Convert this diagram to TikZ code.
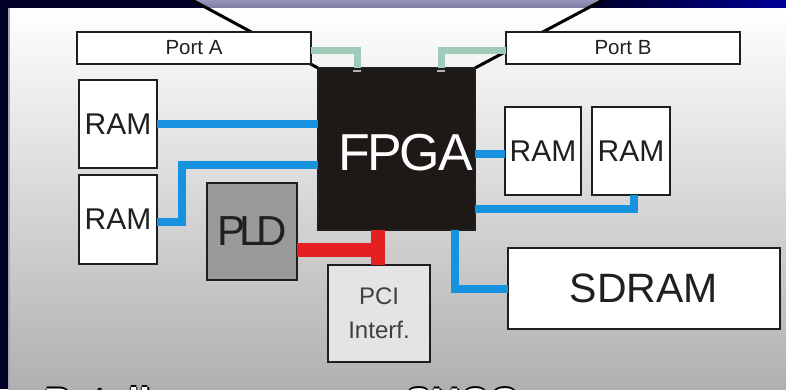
\documentclass[tikz,border=0pt]{standalone}
\usepackage{fontspec}
\setmainfont{Liberation Sans}
\usetikzlibrary{calc}
\definecolor{navyA}{RGB}{0,0,40}
\definecolor{navyB}{RGB}{0,0,150}
\definecolor{purpA}{RGB}{150,150,185}
\definecolor{purpB}{RGB}{120,120,160}
\definecolor{panelbot}{RGB}{176,176,176}
\definecolor{boxline}{RGB}{30,30,30}
\definecolor{fpgafill}{RGB}{30,24,22}
\definecolor{pldfill}{RGB}{154,154,154}
\definecolor{pcifill}{RGB}{228,228,228}
\definecolor{busblue}{RGB}{22,146,222}
\definecolor{busgreen}{RGB}{160,203,184}
\definecolor{busred}{RGB}{228,32,32}
\definecolor{txtdark}{RGB}{32,32,32}
\definecolor{txtgray}{RGB}{64,64,64}
\tikzset{
  chip/.style={draw=boxline, line width=2pt, inner sep=0pt, outer sep=0pt, anchor=north west, align=center},
  whitebox/.style={chip, fill=white, text=txtdark},
  bluebus/.style={draw=busblue, line width=8pt},
  greenbus/.style={draw=busgreen, line width=7pt},
  redbus/.style={draw=busred, line width=14pt},
  zoomline/.style={draw=black, line width=3pt},
  bigtxt/.style={font=\fontsize{30}{30}\selectfont},
  fragtxt/.style={font=\fontsize{40}{40}\selectfont\bfseries, inner sep=0pt, anchor=base west}
}
\begin{document}
\begin{tikzpicture}[x=1pt,y=-1pt]
\clip (0,0) rectangle (786,389);
\useasboundingbox (0,0) rectangle (786,389);
% background
\fill[navyA] (0,0) rectangle (786,389);
\shade[left color=navyA, right color=navyB] (590,0) rectangle (786,9);
\shade[top color=purpA, bottom color=purpB] (192,0) -- (603,0) -- (588,9) -- (207,9) -- cycle;
\shade[top color=white, bottom color=panelbot] (8,8) rectangle (786,389);
\draw[gray!70, line width=1.2pt] (9,8) -- (9,389);
% bottom text fragments (cut off by the lower edge)
\foreach \dx/\dy in {-1.2/0,1.2/0,0/-1.2,0/1.2}{
  \node[fragtxt, text=black] at (44+\dx,416+\dy) {Patall};
  \node[fragtxt, text=black] at (405+\dx,416+\dy) {SHCG};
}
\node[fragtxt, text=white] (fragL) at (44,416) {Patall};
\node[fragtxt, text=white] (fragR) at (405,416) {SHCG};
% zoom lines
\draw[zoomline] (192,0) -- (318,68);
\draw[zoomline] (603,0) -- (475,68);
% boxes
\node[whitebox, minimum width=234pt, minimum height=32pt, font=\fontsize{20.5}{20}\selectfont] (porta) at (77,32) {Port A};
\node[whitebox, minimum width=234pt, minimum height=32pt, font=\fontsize{20.5}{20}\selectfont] (portb) at (506,32) {Port B};
\node[chip, fill=fpgafill, minimum width=157pt, minimum height=162pt] (fpga) at (318,68) {};
\node[text=white, inner sep=0pt, font=\fontsize{52}{52}\selectfont] (fpgalabel) at ($(fpga.center)+(9,4)$) {F\kern-2.5pt P\kern-2.5pt G\kern-2pt A};
\node[whitebox, bigtxt, minimum width=78pt, minimum height=88pt] (ram1) at (79,80) {RAM};
\node[whitebox, bigtxt, minimum width=78pt, minimum height=89pt] (ram2) at (79,175) {RAM};
\node[chip, fill=pldfill, text=txtdark, minimum width=90pt, minimum height=97pt, font=\fontsize{42}{42}\selectfont] (pld) at (207,183) {P\kern-6pt L\kern-6pt D};
\node[chip, fill=pcifill, text=txtgray, minimum width=102pt, minimum height=97pt, font=\fontsize{24}{34}\selectfont] (pci) at (328,265) {PCI\\Interf.};
\node[whitebox, bigtxt, minimum width=76pt, minimum height=88pt] (ram3) at (505,107) {RAM};
\node[whitebox, bigtxt, minimum width=78pt, minimum height=88pt] (ram4) at (592,107) {RAM};
\node[whitebox, minimum width=272pt, minimum height=81pt, font=\fontsize{41}{41}\selectfont] (sdram) at (508,248) {SDRAM};
% green port buses
\coordinate (ga) at ($(fpga.north west)+(39,0)$);
\coordinate (gb) at ($(fpga.north east)+(-34,0)$);
\draw[greenbus] ($(porta.east)+(0,2)$) -| (ga);
\draw[greenbus] ($(portb.west)+(0,2)$) -| (gb);
\fill[gray!60] ($(ga)+(-4,2)$) rectangle ($(ga)+(4,4)$);
\fill[gray!60] ($(gb)+(-4,2)$) rectangle ($(gb)+(4,4)$);
% blue buses
\draw[bluebus] (ram1.east) -- (ram1.east -| fpga.west);
\draw[bluebus] ($(ram2.east)+(0,2)$) -- ++(25,0) |- (fpga.west |- 0,165);
\draw[bluebus] (fpga.east |- 0,154) -- (ram3.west |- 0,154);
\draw[bluebus] ($(ram4.south)+(3,0)$) |- (fpga.east |- 0,209);
\coordinate (sd) at ($(fpga.south west)+(137,0)$);
\draw[bluebus] (sd) |- (sdram.west);
% red bus
\coordinate (rd) at ($(fpga.south west)+(60,0)$);
\draw[redbus] (rd) -- (rd |- pci.north);
\draw[redbus] (pld.east |- 0,250) -- ($(rd |- 0,250)+(7,0)$);
\end{tikzpicture}
\end{document}
